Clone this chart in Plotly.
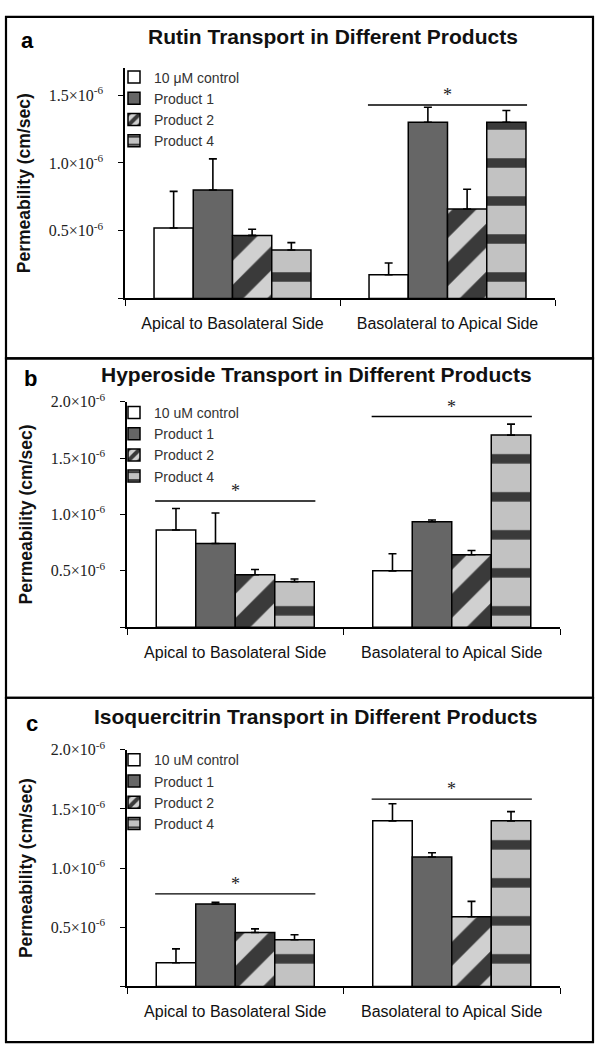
import plotly.graph_objects as go

W, H = 602, 1050

categories = ["Apical to Basolateral Side", "Basolateral to Apical Side"]
series_a = ["10 μM control", "Product 1", "Product 2", "Product 4"]
series_bc = ["10 uM control", "Product 1", "Product 2", "Product 4"]

# Panel a: Rutin (cm/sec)
rutin_control = [0.52e-6, 0.175e-6]
rutin_control_err = [0.27e-6, 0.087e-6]
rutin_p1 = [0.80e-6, 1.30e-6]
rutin_p1_err = [0.23e-6, 0.11e-6]
rutin_p2 = [0.465e-6, 0.66e-6]
rutin_p2_err = [0.046e-6, 0.146e-6]
rutin_p4 = [0.357e-6, 1.30e-6]
rutin_p4_err = [0.055e-6, 0.087e-6]
rutin_sig = [None, 1.427e-6]

# Panel b: Hyperoside
hyper_control = [0.863e-6, 0.50e-6]
hyper_control_err = [0.19e-6, 0.152e-6]
hyper_p1 = [0.743e-6, 0.936e-6]
hyper_p1_err = [0.27e-6, 0.015e-6]
hyper_p2 = [0.465e-6, 0.643e-6]
hyper_p2_err = [0.047e-6, 0.038e-6]
hyper_p4 = [0.404e-6, 1.705e-6]
hyper_p4_err = [0.023e-6, 0.097e-6]
hyper_sig = [1.12e-6, 1.87e-6]

# Panel c: Isoquercitrin
iso_control = [0.20e-6, 1.40e-6]
iso_control_err = [0.117e-6, 0.144e-6]
iso_p1 = [0.697e-6, 1.094e-6]
iso_p1_err = [0.014e-6, 0.036e-6]
iso_p2 = [0.456e-6, 0.589e-6]
iso_p2_err = [0.03e-6, 0.13e-6]
iso_p4 = [0.394e-6, 1.40e-6]
iso_p4_err = [0.042e-6, 0.078e-6]
iso_sig = [0.783e-6, 1.583e-6]

tick_vals_a = [0, 0.5e-6, 1.0e-6, 1.5e-6]
tick_text_a = ["", "0.5×10<sup>-6</sup>", "1.0×10<sup>-6</sup>", "1.5×10<sup>-6</sup>"]
tick_vals_bc = [0, 0.5e-6, 1.0e-6, 1.5e-6, 2.0e-6]
tick_text_bc = ["", "0.5×10<sup>-6</sup>", "1.0×10<sup>-6</sup>", "1.5×10<sup>-6</sup>", "2.0×10<sup>-6</sup>"]

titles = ["Rutin Transport in Different Products",
          "Hyperoside Transport in Different Products",
          "Isoquercitrin Transport in Different Products"]
letters = ["a", "b", "c"]

panels = [
    dict(names=series_a,
         vals=[rutin_control, rutin_p1, rutin_p2, rutin_p4],
         errs=[rutin_control_err, rutin_p1_err, rutin_p2_err, rutin_p4_err],
         sig=rutin_sig, yrange=[0, 1.7e-6], tv=tick_vals_a, tt=tick_text_a,
         ypx=(57.6, 290.5), xpx=(125, 555), legtop=51, title_px=(333, 26), letter_px=(27, 30),
         frame=(6, 351)),
    dict(names=series_bc,
         vals=[hyper_control, hyper_p1, hyper_p2, hyper_p4],
         errs=[hyper_control_err, hyper_p1_err, hyper_p2_err, hyper_p4_err],
         sig=hyper_sig, yrange=[0, 2.0e-6], tv=tick_vals_bc, tt=tick_text_bc,
         ypx=(395, 622.7), xpx=(127, 560), legtop=390, title_px=(316, 367), letter_px=(30, 371),
         frame=(351, 694)),
    dict(names=series_bc,
         vals=[iso_control, iso_p1, iso_p2, iso_p4],
         errs=[iso_control_err, iso_p1_err, iso_p2_err, iso_p4_err],
         sig=iso_sig, yrange=[0, 2.0e-6], tv=tick_vals_bc, tt=tick_text_bc,
         ypx=(746.7, 985.7), xpx=(127, 560), legtop=741, title_px=(315, 713), letter_px=(32, 720),
         frame=(694, 1042)),
]

styles = [
    dict(color="#ffffff"),
    dict(color="#666666"),
    dict(color="#9a9a9a", pattern=dict(shape="/", bgcolor="#d0d0d0", fgcolor="#3a3a3a",
                                       size=34, solidity=0.5, fillmode="replace")),
    dict(color="#b0b0b0", pattern=dict(shape="-", bgcolor="#c2c2c2", fgcolor="#3a3a3a",
                                       size=38, solidity=0.25, fillmode="replace")),
]

fig = go.Figure()
shapes = []
annotations = []
layout = {}

for i, p in enumerate(panels):
    xa = "x" if i == 0 else f"x{i+1}"
    ya = "y" if i == 0 else f"y{i+1}"
    leg = "legend" if i == 0 else f"legend{i+1}"
    for j in range(4):
        fig.add_trace(go.Bar(
            x=categories, y=p["vals"][j], name=p["names"][j],
            xaxis=xa, yaxis=ya, legend=leg,
            marker=dict(**styles[j], line=dict(color="black", width=1.5)),
            error_y=dict(type="data", symmetric=False, array=p["errs"][j],
                         arrayminus=[0, 0], color="black", thickness=1.6, width=4),
        ))
    x0, x1 = p["xpx"]
    ytop, ybot = p["ypx"]
    xkey = "xaxis" if i == 0 else f"xaxis{i+1}"
    ykey = "yaxis" if i == 0 else f"yaxis{i+1}"
    layout[xkey] = dict(
        domain=[x0 / W, x1 / W], anchor=ya, type="category", range=[-0.5, 1.5],
        showline=True, linecolor="black", linewidth=1.5,
        ticks="outside", tickson="boundaries", ticklen=6, tickwidth=1.2, tickcolor="black",
        tickfont=dict(family="Liberation Sans, Arial", size=16, color="#111111"),
        ticklabelstandoff=10, showgrid=False, zeroline=False,
    )
    layout[ykey] = dict(
        domain=[1 - ybot / H, 1 - ytop / H], anchor=xa, range=p["yrange"],
        showline=True, linecolor="black", linewidth=1.5,
        ticks="outside", ticklen=5, tickwidth=1.2, tickcolor="black",
        tickvals=p["tv"], ticktext=p["tt"],
        tickfont=dict(family="Liberation Serif", size=16, color="#222222"),
        ticklabelstandoff=12, showgrid=False, zeroline=False,
        title=dict(text="Permeability (cm/sec)", standoff=14,
                   font=dict(family="Liberation Sans, Arial", size=17.5, color="#111111",
                             weight="bold")),
    )
    layout[leg] = dict(
        x=114 / W, y=1 - p["legtop"] / H, xanchor="left", yanchor="top",
        bgcolor="rgba(0,0,0,0)", borderwidth=0,
        font=dict(family="Liberation Sans, Arial", size=14, color="#333333"),
        itemwidth=30, tracegroupgap=0,
    )
    for k, s in enumerate(p["sig"]):
        if s is None:
            continue
        shapes.append(dict(type="line", xref=xa, yref=ya, x0=k - 0.37, x1=k + 0.37,
                           y0=s, y1=s, line=dict(color="black", width=1.3)))
        annotations.append(dict(xref=xa, yref=ya, x=k, y=s, text="*", showarrow=False,
                                yanchor="bottom", yshift=-2,
                                font=dict(family="Liberation Serif", size=18, color="#222222")))
    tx, ty = p["title_px"]
    annotations.append(dict(xref="paper", yref="paper", x=tx / W, y=1 - ty / H,
                            text=titles[i], showarrow=False, xanchor="center", yanchor="middle",
                            font=dict(family="Liberation Sans, Arial", size=21, color="#111111",
                                      weight="bold")))
    lx, ly = p["letter_px"]
    annotations.append(dict(xref="paper", yref="paper", x=lx / W, y=1 - ly / H,
                            text=letters[i], showarrow=False, xanchor="center", yanchor="middle",
                            font=dict(family="Liberation Sans, Arial", size=22, color="#000000",
                                      weight="bold")))
    ft, fb = p["frame"]
    shapes.append(dict(type="rect", xref="paper", yref="paper",
                       x0=6 / W, x1=593 / W, y0=1 - fb / H, y1=1 - ft / H,
                       line=dict(color="black", width=2.2), fillcolor="rgba(0,0,0,0)"))

fig.update_layout(
    width=W, height=H, margin=dict(l=0, r=0, t=0, b=0),
    paper_bgcolor="white", plot_bgcolor="white",
    barmode="group", bargap=0.27, bargroupgap=0,
    shapes=shapes, annotations=annotations, showlegend=True,
    **layout,
)

fig.write_html(
    "out.html",
    config={"displayModeBar": False},
    post_script="document.body.style.margin='0';document.body.style.overflow='hidden';",
)
